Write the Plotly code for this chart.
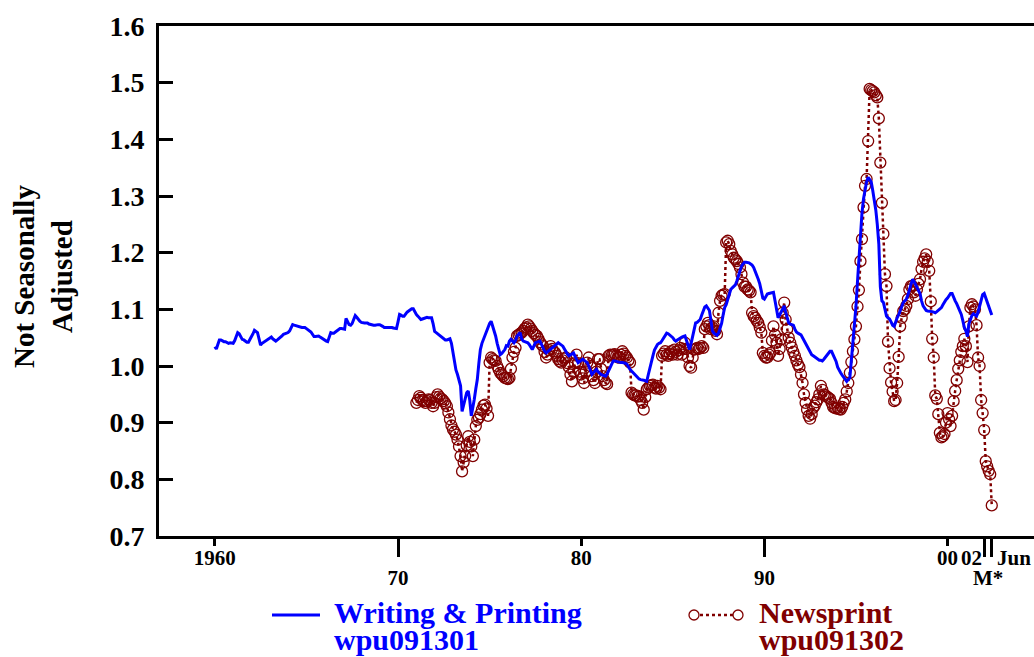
import pandas as pd
import plotly.graph_objects as go

# ---------------- data (monthly) ----------------
writing_start = "1960-01-01"
writing_printing = [
    1.034,1.030,1.038,1.046,1.046,1.044,1.043,1.043,1.042,1.040,1.041,1.040,  # 1960
    1.040,1.045,1.052,1.059,1.057,1.052,1.047,1.046,1.044,1.042,1.042,1.048,  # 1961
    1.052,1.057,1.063,1.061,1.059,1.048,1.037,1.040,1.042,1.044,1.046,1.048,  # 1962
    1.050,1.051,1.048,1.046,1.044,1.046,1.048,1.050,1.053,1.056,1.057,1.058,  # 1963
    1.059,1.062,1.068,1.073,1.072,1.071,1.070,1.069,1.069,1.068,1.068,1.068,  # 1964
    1.066,1.064,1.062,1.060,1.056,1.052,1.052,1.053,1.053,1.051,1.049,1.047,  # 1965
    1.046,1.044,1.043,1.052,1.059,1.058,1.058,1.060,1.062,1.064,1.066,1.066,  # 1966
    1.065,1.065,1.084,1.078,1.073,1.072,1.075,1.082,1.089,1.086,1.082,1.079,  # 1967
    1.077,1.076,1.076,1.076,1.076,1.074,1.073,1.072,1.072,1.072,1.073,1.073,  # 1968
    1.073,1.072,1.070,1.068,1.068,1.069,1.069,1.069,1.068,1.067,1.066,1.066,  # 1969
    1.078,1.091,1.090,1.088,1.088,1.092,1.095,1.097,1.099,1.101,1.101,1.095,  # 1970
    1.091,1.088,1.085,1.082,1.083,1.084,1.085,1.086,1.085,1.085,1.085,1.075,  # 1971
    1.061,1.059,1.057,1.055,1.053,1.050,1.048,1.046,1.046,1.047,1.048,1.040,  # 1972
    1.023,1.005,0.993,0.985,0.976,0.965,0.920,0.930,0.941,0.953,0.956,0.940,  # 1973
    0.912,0.925,0.941,0.960,0.976,1.005,1.029,1.040,1.047,1.055,1.062,1.068,  # 1974
    1.075,1.079,1.072,1.062,1.053,1.040,1.028,1.020,1.022,1.026,1.029,1.036,  # 1975
    1.035,1.044,1.047,1.044,1.041,1.045,1.053,1.056,1.059,1.048,1.044,1.043,  # 1976
    1.042,1.041,1.038,1.033,1.029,1.035,1.041,1.042,1.043,1.044,1.038,1.032,  # 1977
    1.026,1.023,1.025,1.028,1.030,1.032,1.033,1.036,1.039,1.041,1.039,1.037,  # 1978
    1.035,1.030,1.025,1.021,1.018,1.020,1.022,1.023,1.017,1.011,1.006,1.008,  # 1979
    1.010,1.012,1.010,1.008,1.006,1.000,0.992,0.985,0.988,0.992,0.994,0.990,  # 1980
    0.987,0.985,0.984,0.983,0.982,0.986,0.992,1.000,1.005,1.009,1.009,1.008,  # 1981
    1.007,1.006,1.006,1.006,1.006,1.005,1.003,0.998,0.994,0.991,0.988,0.985,  # 1982
    0.982,0.979,0.977,0.976,0.976,0.975,0.974,0.973,0.985,0.998,1.010,1.018,  # 1983
    1.028,1.035,1.038,1.040,1.041,1.045,1.050,1.055,1.058,1.057,1.055,1.053,  # 1984
    1.050,1.046,1.044,1.046,1.048,1.050,1.051,1.052,1.053,1.045,1.035,1.029,  # 1985
    1.040,1.053,1.065,1.076,1.077,1.079,1.082,1.090,1.098,1.104,1.106,1.103,  # 1986
    1.098,1.080,1.062,1.058,1.056,1.054,1.058,1.068,1.075,1.090,1.103,1.108,  # 1987
    1.118,1.128,1.135,1.138,1.140,1.143,1.150,1.160,1.171,1.176,1.180,1.183,  # 1988
    1.183,1.183,1.182,1.180,1.178,1.174,1.168,1.162,1.153,1.145,1.132,1.120,  # 1989
    1.118,1.122,1.127,1.128,1.129,1.130,1.130,1.115,1.100,1.085,1.090,1.095,  # 1990
    1.100,1.106,1.095,1.085,1.076,1.074,1.073,1.072,1.065,1.060,1.058,1.057,  # 1991
    1.055,1.050,1.045,1.040,1.035,1.030,1.025,1.020,1.018,1.016,1.014,1.012,  # 1992
    1.010,1.010,1.009,1.012,1.016,1.020,1.023,1.026,1.026,1.020,1.012,1.008,  # 1993
    0.998,0.992,0.988,0.984,0.980,0.975,0.973,0.976,0.979,1.010,1.040,1.075,  # 1994
    1.105,1.150,1.190,1.235,1.270,1.295,1.313,1.325,1.333,1.330,1.325,1.310,  # 1995
    1.293,1.275,1.250,1.215,1.140,1.115,1.112,1.100,1.088,1.085,1.083,1.078,  # 1996
    1.072,1.070,1.078,1.085,1.090,1.098,1.105,1.112,1.115,1.118,1.125,1.135,  # 1997
    1.145,1.153,1.150,1.145,1.140,1.135,1.128,1.115,1.106,1.102,1.098,1.097,  # 1998
    1.097,1.097,1.096,1.095,1.094,1.096,1.098,1.101,1.103,1.108,1.114,1.117,  # 1999
    1.120,1.124,1.128,1.128,1.120,1.115,1.110,1.103,1.097,1.091,1.080,1.068,  # 2000
    1.062,1.052,1.074,1.082,1.089,1.092,1.090,1.088,1.095,1.105,1.115,1.126,  # 2001
    1.128,1.120,1.112,1.102,1.094,1.090,                                      # 2002
]

newsprint_start = "1971-01-01"
newsprint = [
    0.935,0.940,0.947,0.944,0.940,0.938,0.935,0.938,0.941,0.940,0.935,0.929,  # 1971
    0.935,0.945,0.950,0.946,0.943,0.941,0.938,0.934,0.929,0.918,0.906,0.895,  # 1972
    0.888,0.884,0.879,0.870,0.858,0.841,0.814,0.830,0.841,0.860,0.876,0.866,  # 1973
    0.858,0.841,0.870,0.894,0.905,0.909,0.915,0.923,0.930,0.932,0.925,0.912,  # 1974
    1.006,1.015,1.012,1.010,1.009,1.000,0.994,0.988,0.985,0.982,0.979,0.978,  # 1975
    0.977,0.979,0.995,1.015,1.025,1.032,1.053,1.055,1.057,1.059,1.062,1.066,  # 1976
    1.068,1.073,1.070,1.066,1.062,1.058,1.055,1.053,1.048,1.042,1.038,1.035,  # 1977
    1.025,1.015,1.020,1.028,1.035,1.030,1.026,1.023,1.018,1.012,1.008,1.006,  # 1978
    1.010,1.013,1.015,1.005,0.998,0.985,0.973,0.990,1.005,1.020,1.005,0.990,  # 1979
    0.985,0.978,0.970,0.990,1.006,1.015,1.000,0.982,0.975,0.970,0.990,1.012,  # 1980
    1.012,0.995,0.982,0.975,0.970,0.968,1.018,1.020,1.019,1.020,1.021,1.018,  # 1981
    1.015,1.015,1.020,1.026,1.022,1.018,1.015,1.010,1.006,0.953,0.950,0.948,  # 1982
    0.948,0.946,0.947,0.940,0.935,0.923,0.945,0.959,0.962,0.965,0.966,0.967,  # 1983
    0.962,0.960,0.965,0.962,0.959,1.018,1.022,1.026,1.020,1.018,1.022,1.026,  # 1984
    1.020,1.029,1.025,1.020,1.028,1.032,1.020,1.030,1.041,1.030,1.015,1.000,  # 1985
    0.997,1.015,1.029,1.030,1.032,1.030,1.032,1.035,1.032,1.065,1.070,1.076,  # 1986
    1.072,1.065,1.068,1.070,1.062,1.056,1.094,1.115,1.124,1.126,1.127,1.218,  # 1987
    1.221,1.215,1.203,1.197,1.191,1.188,1.185,1.180,1.174,1.162,1.147,1.140,  # 1988
    1.140,1.135,1.133,1.130,1.094,1.088,1.085,1.080,1.076,1.068,1.059,1.023,  # 1989
    1.018,1.015,1.015,1.020,1.023,1.045,1.070,1.055,1.041,1.018,1.030,1.047,  # 1990
    1.094,1.112,1.082,1.065,1.050,1.041,1.033,1.025,1.018,1.010,1.003,0.998,  # 1991
    0.985,0.970,0.950,0.935,0.923,0.912,0.907,0.915,0.926,0.930,0.936,0.941,  # 1992
    0.950,0.965,0.958,0.950,0.948,0.946,0.944,0.942,0.935,0.928,0.926,0.925,  # 1993
    0.926,0.924,0.923,0.928,0.935,0.941,0.955,0.970,0.988,1.007,1.026,1.047,  # 1994
    1.070,1.105,1.134,1.185,1.224,1.280,1.318,1.330,1.397,1.489,1.487,1.485,  # 1995
    1.483,1.478,1.474,1.437,1.359,1.288,1.233,1.162,1.141,1.043,0.996,0.971,  # 1996
    0.955,0.938,0.940,0.970,1.016,1.070,1.085,1.097,1.100,1.106,1.118,1.135,  # 1997
    1.141,1.141,1.130,1.124,1.135,1.145,1.153,1.171,1.184,1.190,1.197,1.184,  # 1998
    1.168,1.114,1.048,1.015,0.948,0.942,0.915,0.882,0.874,0.876,0.880,0.900,  # 1999
    0.917,0.906,0.894,0.912,0.938,0.956,0.975,0.995,1.010,1.025,1.035,1.048,  # 2000
    1.035,1.007,1.070,1.103,1.109,1.105,1.100,1.072,1.015,1.000,0.940,0.917,  # 2001
    0.887,0.832,0.823,0.815,0.809,0.754,                                      # 2002
]

y_ticks = [0.7, 0.8, 0.9, 1.0, 1.1, 1.2, 1.3, 1.4, 1.5, 1.6]
x_ticks_row1 = ["1960-01-01", "1980-01-01", "2000-01-01"]
x_labels_row1 = ["1960", "80", "00"]
x_ticks_row2 = ["1970-01-01", "1990-01-01", "2002-01-01", "2002-06-01"]
x_labels_row2 = ["70", "90", "", ""]
x_range = ["1956-12-14", "2004-09-20"]

series_names = [("Writing & Printing", "wpu091301"), ("Newsprint", "wpu091302")]
BLUE = "#0000FF"
RED = "#800000"
FONT = "Liberation Serif"

wp_dates = pd.date_range(writing_start, periods=len(writing_printing), freq="MS")
np_dates = pd.date_range(newsprint_start, periods=len(newsprint), freq="MS")

fig = go.Figure()
fig.add_trace(go.Scatter(
    x=np_dates, y=newsprint, mode="lines+markers",
    line=dict(color=RED, width=2.5, dash="dot"),
    marker=dict(symbol="circle-open", size=11, color=RED, line=dict(width=1.3, color=RED)),
    showlegend=False, xaxis="x", yaxis="y"))
fig.add_trace(go.Scatter(
    x=wp_dates, y=writing_printing, mode="lines",
    line=dict(color=BLUE, width=3),
    showlegend=False, xaxis="x2", yaxis="y"))

tickfont_x = dict(family=FONT, size=21, color="black", weight="bold")
fig.update_layout(
    width=1034, height=657,
    margin=dict(l=159, r=0, t=26, b=121),
    paper_bgcolor="white", plot_bgcolor="white",
    xaxis=dict(type="date", range=x_range, tickmode="array",
               tickvals=x_ticks_row1, ticktext=x_labels_row1,
               ticks="outside", ticklen=7, tickwidth=2.5, tickcolor="black",
               showline=True, linewidth=3, linecolor="black", mirror=True,
               showgrid=False, zeroline=False, tickfont=tickfont_x,
               ticklabelstandoff=-6),
    xaxis2=dict(type="date", range=x_range, overlaying="x", anchor="y", side="bottom",
                tickmode="array", tickvals=x_ticks_row2, ticktext=x_labels_row2,
                ticks="outside", ticklen=20, tickwidth=2.5, tickcolor="black",
                showline=False, showgrid=False, zeroline=False, tickfont=tickfont_x,
                ticklabelstandoff=3),
    yaxis=dict(range=[0.7, 1.6], tickmode="array", tickvals=y_ticks,
               tickformat=".1f", ticks="inside", ticklen=14, tickwidth=2.5,
               tickcolor="black", showline=True, linewidth=3, linecolor="black",
               mirror=False, showgrid=False, zeroline=False,
               tickfont=dict(family=FONT, size=28, color="black", weight="bold"),
               ticklabelstandoff=6),
)

def px_x(p):
    return (p - 159) / 875.0

def px_y(p):
    return (536 - p) / 510.0

anns = []
# y axis title
anns.append(dict(text="Not Seasonally<br>Adjusted", xref="paper", yref="paper",
                 x=px_x(43), y=px_y(277), xanchor="center", yanchor="middle",
                 textangle=-90, showarrow=False,
                 font=dict(family=FONT, size=29, color="black", weight="bold")))
# extra x tick labels
anns.append(dict(text="02", xref="x", yref="paper", x="2002-01-01", y=px_y(558),
                 xanchor="right", yanchor="middle", xshift=0, showarrow=False, font=tickfont_x))
anns.append(dict(text="Jun", xref="x", yref="paper", x="2002-06-01", y=px_y(558),
                 xanchor="left", yanchor="middle", xshift=3, showarrow=False, font=tickfont_x))
anns.append(dict(text="M*", xref="x", yref="paper", x="2002-03-16", y=px_y(578),
                 xanchor="center", yanchor="middle", showarrow=False, font=tickfont_x))
# legend texts
legfont = 30
for (name, code), color, left in zip(series_names, [BLUE, RED], [332, 757]):
    anns.append(dict(text=name, xref="paper", yref="paper", x=px_x(left), y=px_y(612),
                     xanchor="left", yanchor="middle", showarrow=False,
                     font=dict(family=FONT, size=legfont, color=color, weight="bold")))
    anns.append(dict(text=code, xref="paper", yref="paper", x=px_x(left), y=px_y(639),
                     xanchor="left", yanchor="middle", showarrow=False,
                     font=dict(family=FONT, size=legfont, color=color, weight="bold")))
fig.update_layout(annotations=anns)

shapes = []
shapes.append(dict(type="line", xref="paper", yref="paper",
                   x0=px_x(272), x1=px_x(320), y0=px_y(615), y1=px_y(615),
                   line=dict(color=BLUE, width=3)))
shapes.append(dict(type="line", xref="paper", yref="paper",
                   x0=px_x(694), x1=px_x(738), y0=px_y(615), y1=px_y(615),
                   line=dict(color=RED, width=2.5, dash="dot")))
for cx in [694, 738]:
    shapes.append(dict(type="circle", xref="paper", yref="paper",
                       xsizemode="pixel", ysizemode="pixel",
                       xanchor=px_x(cx), yanchor=px_y(615),
                       x0=-5, x1=5, y0=-5, y1=5,
                       fillcolor="white", line=dict(color=RED, width=1.3)))
fig.update_layout(shapes=shapes)

fig.write_html("out.html")
